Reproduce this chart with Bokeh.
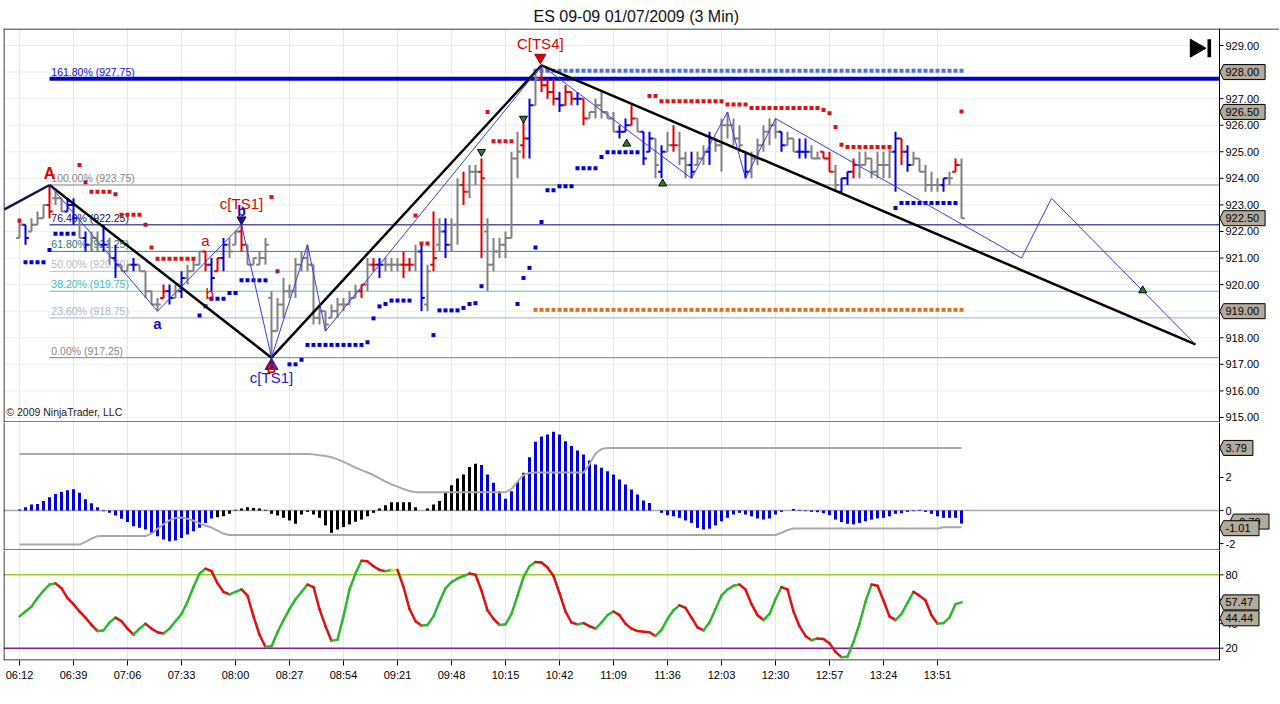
import numpy as np
from bokeh.plotting import figure
from bokeh.layouts import column
from bokeh.models import Range1d, FixedTicker, ColumnDataSource, Span, Grid
from bokeh.core.properties import value
from bokeh.embed import file_html
from bokeh.resources import INLINE

FONT = "Liberation Sans"

# ---------------- data ----------------
title_text = "ES 09-09  01/07/2009 (3 Min)"
time_ticks = [0, 9, 18, 27, 36, 45, 54, 63, 72, 81, 90, 99, 108, 117, 126, 135, 144, 153]
time_labels = ["06:12", "06:39", "07:06", "07:33", "08:00", "08:27", "08:54", "09:21", "09:48",
               "10:15", "10:42", "11:09", "11:36", "12:03", "12:30", "12:57", "13:24", "13:51"]
price_ticks = [915, 916, 917, 918, 919, 920, 921, 922, 923, 924, 925, 926, 927, 928, 929]

high = [922.50, 922.25, 922.50, 922.75, 923.00, 923.75, 923.50, 923.25, 923.25, 923.25,
        922.50, 922.00, 922.00, 922.00, 922.25, 921.75, 921.50, 920.75, 920.75, 921.00,
        920.75, 920.50, 919.75, 919.50, 920.00, 920.00, 920.00, 920.50, 920.75, 921.00,
        921.25, 921.25, 921.00, 921.00, 921.75, 921.75, 922.00, 922.25, 921.50, 921.00,
        921.25, 921.75, 919.75, 919.50, 920.25, 920.00, 921.00, 921.25, 921.50, 920.75,
        919.25, 919.00, 919.25, 919.50, 919.50, 919.75, 920.00, 920.00, 921.00, 921.00,
        921.00, 921.00, 921.00, 921.00, 921.25, 921.00, 921.50, 921.50, 920.75, 922.75,
        922.50, 922.50, 922.50, 924.00, 924.25, 924.50, 924.50, 924.75, 922.50, 921.75,
        921.75, 922.00, 925.00, 925.75, 926.25, 927.00, 928.00, 928.25, 927.75, 927.75,
        927.25, 927.50, 927.25, 927.25, 927.00, 926.50, 927.00, 927.25, 926.50, 926.50,
        926.00, 926.25, 926.75, 926.25, 925.75, 925.75, 925.50, 925.25, 925.75, 926.00,
        925.75, 925.00, 925.00, 925.00, 925.25, 925.75, 925.50, 926.25, 926.50, 926.25,
        926.00, 925.00, 925.00, 925.50, 926.00, 926.25, 926.25, 925.75, 925.75, 925.50,
        925.50, 925.50, 925.25, 925.00, 925.00, 925.00, 924.50, 924.00, 924.25, 924.75,
        925.00, 925.00, 924.75, 925.00, 925.00, 925.25, 925.75, 925.50, 925.25, 925.00,
        924.75, 924.50, 924.25, 924.00, 924.00, 924.25, 924.75, 924.75]
low = [921.75, 921.50, 922.00, 922.25, 922.50, 922.50, 923.00, 922.75, 922.75, 922.25,
       921.75, 921.25, 921.25, 921.25, 921.25, 920.75, 920.25, 920.50, 920.50, 920.50,
       920.50, 919.50, 919.25, 919.00, 919.50, 919.25, 919.50, 919.50, 920.00, 920.50,
       920.75, 920.50, 919.75, 920.50, 920.50, 921.00, 921.50, 921.25, 920.75, 920.75,
       920.75, 920.75, 917.25, 918.25, 918.75, 919.50, 919.50, 920.50, 920.50, 918.50,
       918.50, 918.25, 918.75, 918.75, 919.00, 919.25, 919.50, 919.50, 919.75, 920.50,
       920.25, 920.50, 920.50, 920.50, 920.25, 920.50, 920.50, 919.00, 919.00, 920.50,
       921.25, 921.00, 921.25, 921.50, 923.00, 923.25, 923.75, 921.00, 919.75, 920.50,
       921.00, 921.00, 921.75, 924.00, 924.75, 924.75, 926.75, 927.25, 927.00, 926.75,
       926.50, 926.75, 926.75, 926.75, 926.00, 926.25, 926.25, 926.25, 926.25, 925.75,
       925.50, 925.75, 926.00, 925.75, 924.50, 925.00, 924.00, 924.00, 925.00, 925.00,
       924.50, 924.00, 924.00, 924.50, 924.50, 924.50, 925.00, 924.25, 925.50, 925.25,
       925.00, 924.00, 924.00, 924.50, 925.00, 925.25, 925.50, 925.00, 925.25, 925.00,
       924.75, 924.75, 924.75, 924.75, 924.75, 924.25, 923.50, 923.50, 923.75, 924.00,
       924.00, 924.50, 924.00, 924.00, 924.00, 924.00, 923.50, 924.50, 924.25, 924.50,
       924.25, 923.50, 923.50, 923.50, 923.50, 923.75, 924.25, 922.50]
opn = [921.75, 922.25, 922.00, 922.25, 922.50, 923.00, 923.25, 923.25, 922.75, 923.00,
       922.50, 921.75, 921.50, 921.75, 921.50, 921.50, 921.00, 920.75, 920.50, 920.75,
       920.75, 920.50, 919.75, 919.25, 919.50, 919.75, 919.50, 919.75, 920.25, 920.50,
       920.75, 921.25, 920.75, 920.50, 921.00, 921.50, 921.50, 922.00, 921.50, 920.75,
       920.75, 921.00, 919.50, 918.25, 919.25, 919.75, 919.75, 920.75, 921.00, 920.75,
       918.75, 919.00, 918.75, 919.00, 919.25, 919.25, 919.50, 919.75, 920.00, 920.75,
       920.75, 920.75, 920.75, 920.75, 920.75, 920.75, 920.75, 921.25, 919.25, 920.75,
       921.50, 922.00, 921.50, 922.25, 923.75, 923.50, 924.25, 924.25, 922.00, 920.75,
       921.25, 921.50, 921.75, 924.75, 925.25, 925.50, 926.75, 927.75, 927.50, 927.25,
       927.00, 926.75, 927.25, 927.00, 927.00, 926.25, 926.50, 926.75, 926.50, 926.25,
       925.75, 925.75, 926.00, 926.25, 925.75, 925.00, 925.50, 924.25, 925.00, 925.25,
       925.25, 924.75, 924.50, 924.50, 924.75, 925.00, 925.50, 925.25, 926.00, 926.00,
       925.50, 925.00, 924.25, 924.75, 925.25, 925.75, 926.00, 925.75, 925.25, 925.50,
       925.00, 925.00, 925.00, 924.75, 925.00, 924.75, 924.25, 923.50, 924.00, 924.25,
       924.50, 924.50, 924.75, 924.25, 924.50, 924.50, 925.00, 925.50, 925.00, 924.50,
       924.75, 924.25, 923.75, 923.75, 923.75, 924.00, 924.25, 924.50]
cls = [922.25, 921.75, 922.25, 922.50, 923.00, 922.75, 923.25, 922.75, 923.00, 922.50,
       921.75, 921.50, 921.75, 921.50, 921.50, 921.00, 920.75, 920.50, 920.75, 920.75,
       920.50, 919.75, 919.25, 919.25, 919.75, 919.50, 919.75, 920.25, 920.50, 920.75,
       921.25, 920.75, 920.25, 921.00, 921.50, 921.25, 922.00, 921.50, 920.75, 921.00,
       921.00, 921.50, 918.25, 919.25, 919.75, 919.75, 920.75, 921.00, 920.75, 918.75,
       919.00, 918.50, 919.00, 919.25, 919.25, 919.50, 919.75, 920.00, 920.75, 920.75,
       920.75, 920.75, 920.75, 920.75, 920.75, 920.75, 921.25, 919.50, 920.50, 921.00,
       922.00, 921.50, 922.25, 923.75, 923.50, 924.25, 924.25, 924.00, 920.75, 921.25,
       921.50, 921.75, 924.75, 925.00, 925.50, 926.75, 927.75, 927.50, 927.25, 927.00,
       926.75, 927.25, 927.00, 927.00, 926.25, 926.50, 926.75, 926.50, 926.25, 925.75,
       925.75, 926.00, 926.25, 925.75, 924.75, 925.50, 924.50, 925.00, 925.25, 925.25,
       924.75, 924.50, 924.25, 924.75, 925.00, 925.50, 925.25, 926.00, 926.00, 925.50,
       925.25, 924.25, 924.75, 925.25, 925.75, 926.00, 925.75, 925.25, 925.50, 925.00,
       925.00, 925.00, 924.75, 924.75, 924.75, 924.25, 923.75, 924.00, 924.25, 924.50,
       924.50, 924.75, 924.25, 924.50, 924.50, 925.00, 925.50, 925.00, 924.50, 924.75,
       924.25, 923.75, 923.75, 923.75, 924.00, 924.00, 924.50, 922.50]
bar_colors = ("gbgggrggbb" "gbggbgbggb" "ggggrbgbgg" "grbrbggrgg" "gggggggggg"
              "gggggggrgr" "bgggrrgbgr" "gbggrggrgg" "ggggrbgrrr" "brrbrggggg"
              "bbrgbbgbgr" "ggbggbgggg" "gbgggggbgg" "bbggrrgbbr" "ggggggbrbg"
              "ggggbgrg")

# trailing-stop dots: (first bar, last bar, price)
red_dot_runs = [(0, 0, 922.4), (10, 10, 924.5), (12, 15, 923.5), (17, 20, 922.63), (22, 22, 921.4),
                (23, 29, 920.97), (42, 42, 923.3), (66, 66, 922.6), (67, 68, 921.55), (78, 78, 926.5),
                (79, 82, 925.4), (105, 106, 927.1), (107, 117, 926.9), (118, 121, 926.78),
                (122, 133, 926.65), (134, 134, 926.57), (135, 135, 926.45), (136, 136, 925.93),
                (137, 137, 925.26), (138, 145, 925.18), (157, 157, 926.52)]
darkred_dot_runs = [(11, 11, 923.85), (16, 16, 923.4), (21, 21, 922.25), (43, 43, 920.5)]
blue_dot_runs = [(1, 4, 920.84), (5, 5, 921.3), (6, 9, 921.91), (30, 30, 918.84), (31, 31, 919.19),
                 (32, 34, 919.47), (35, 36, 919.68), (37, 41, 920.16), (45, 46, 917.0), (47, 47, 917.17),
                 (48, 57, 917.73), (58, 58, 917.83), (59, 59, 918.73), (60, 60, 919.18), (61, 61, 919.27),
                 (62, 65, 919.4), (69, 69, 918.1), (70, 73, 919.03), (74, 74, 919.12), (75, 75, 919.27),
                 (76, 76, 919.3), (77, 77, 919.94), (83, 83, 919.27), (84, 84, 920.25), (85, 85, 920.63),
                 (86, 86, 921.4), (87, 87, 922.36), (88, 89, 923.55), (90, 92, 923.7), (93, 96, 924.38),
                 (97, 97, 924.8), (98, 103, 924.98), (146, 146, 922.88), (147, 156, 923.07)]
lightblue_dot_runs = [(86, 157, 928.05)]
orange_dot_runs = [(86, 157, 919.05)]

fib_start = 5
fib_levels = [927.75, 923.75, 922.25, 921.25, 920.50, 919.75, 918.75, 917.25]
fib_labels = ["161.80% (927.75)", "100.00% (923.75)", "76.40% (922.25)", "61.80% (921.25)",
              "50.00% (920.50)", "38.20% (919.75)", "23.60% (918.75)", "0.00% (917.25)"]

thick_x = [-2.5, 5, 42, 87, 196]
thick_y = [922.83, 923.75, 917.25, 928.25, 917.75]
thin_x = [5, 23, 37, 42, 48, 51, 87, 112, 118, 121, 126, 167, 172, 196]
thin_y = [923.75, 919.0, 922.25, 917.25, 921.5, 918.25, 928.25, 924.0, 926.5, 924.0, 926.25,
          921.0, 923.25, 917.75]

sig_dn_x = [77, 84]
sig_dn_y = [925.0, 926.25]
sig_up_x = [101.2, 107.2, 187.2]
sig_up_y = [925.3, 923.8, 919.78]

price_tags = [("928.00", 928.0), ("926.50", 926.5), ("922.50", 922.5), ("919.00", 919.0)]

hist = [0.06, 0.20, 0.36, 0.40, 0.57, 0.81, 1.00, 1.13, 1.23, 1.29,
        1.07, 0.69, 0.44, 0.20, -0.04, -0.14, -0.30, -0.50, -0.70, -0.95,
        -1.05, -1.15, -1.35, -1.55, -1.76, -1.86, -1.82, -1.66, -1.45, -1.25,
        -1.05, -0.75, -0.48, -0.40, -0.35, -0.20, 0.04, 0.12, 0.20, 0.16,
        0.12, 0.04, -0.20, -0.30, -0.44, -0.60, -0.80, -0.24, -0.08, -0.24,
        -0.44, -0.90, -1.35, -1.15, -1.00, -0.84, -0.68, -0.55, -0.35, -0.14,
        0.12, 0.32, 0.50, 0.50, 0.50, 0.50, 0.20, 0.00, 0.12, 0.36,
        0.57, 1.13, 1.53, 1.94, 2.18, 2.63, 2.84, 2.75, 2.18, 1.68,
        1.17, 0.71, 1.17, 1.72, 2.28, 3.23, 4.16, 4.48, 4.60, 4.77,
        4.60, 4.20, 3.90, 3.64, 3.40, 3.03, 2.79, 2.59, 2.38, 2.18,
        1.88, 1.58, 1.27, 0.97, 0.61, 0.46, 0.00, -0.14, -0.28, -0.35,
        -0.44, -0.60, -0.75, -1.05, -1.15, -1.10, -0.90, -0.65, -0.44, -0.24,
        -0.14, -0.24, -0.35, -0.48, -0.55, -0.48, -0.24, -0.08, 0.00, 0.10,
        0.04, -0.04, -0.08, -0.10, -0.16, -0.28, -0.55, -0.70, -0.80, -0.84,
        -0.75, -0.65, -0.55, -0.48, -0.44, -0.35, -0.20, -0.16, -0.08, -0.04,
        0.04, -0.08, -0.20, -0.35, -0.44, -0.44, -0.44, -0.79]
hist_color_runs = [("b", 33), ("k", 44), ("b", 81)]
band_upper = ([3.43] * 49 + [3.40, 3.35, 3.30, 3.23, 3.10, 2.95, 2.78, 2.60, 2.45, 2.30, 2.15,
              1.95, 1.75, 1.58, 1.45, 1.30, 1.18] + [1.11] * 16 + [1.30, 1.75, 2.15, 2.28]
              + [2.30] * 9 + [2.80, 3.45, 3.72] + [3.79] * 60)
band_lower = ([-2.06] * 11 + [-1.90, -1.70, -1.55] + [-1.54] * 8
              + [-1.40, -1.10, -0.83, -0.60, -0.46, -0.42, -0.50, -0.62, -0.78, -0.92, -1.03, -1.22, -1.40]
              + [-1.48] * 92 + [-1.35, -1.18] + [-1.09] * 25 + [-1.01] * 4)
osc_ticks = [-2, 0, 2]
osc_tags = [("-0.79", -0.79), ("3.79", 3.79), ("-1.01", -1.01)]

stoch = [46, 50, 54, 61, 67, 72, 73, 69, 61, 56,
         50, 45, 39, 34, 34.5, 41, 45, 42, 36, 31,
         36, 40, 36, 33, 32, 36, 42, 48, 58, 70,
         81, 85, 83, 73, 66, 64, 66, 68, 63, 46,
         31, 21, 21.5, 33, 43, 52, 60, 66, 72, 70,
         52, 38, 26, 27, 46, 68, 81, 91.5, 91, 87,
         84, 83, 84, 84, 70, 52, 42, 38.5, 39, 46,
         58, 69, 74, 77, 79, 81, 80, 67, 51, 44,
         39, 39.5, 48, 63, 78, 87, 90.5, 90, 86, 79,
         65, 50, 41, 39.5, 40.5, 38, 36, 41, 47, 50,
         47, 40, 36, 34, 33.5, 33, 30, 35, 44, 51,
         55, 53, 45, 37, 34.5, 41, 52, 63, 68, 71,
         72, 68, 56, 47, 43, 48, 60, 70, 68, 50,
         38, 30, 26.5, 28, 27.5, 24, 17, 12.7, 13, 25,
         40, 58, 72, 71, 59, 46, 43, 48, 57, 66,
         63, 59, 47, 40, 40.5, 45, 56, 57.47]
stoch_levels = [80, 20]
stoch_ticks = [20, 40, 60, 80]
stoch_tags = [("57.47", 57.47), ("44.44", 44.44)]

n = len(high)
for arr in (low, opn, cls, hist, band_upper, band_lower, stoch):
    assert len(arr) == n, len(arr)
assert len(bar_colors) == n

# ---------------- layout constants ----------------
PX = 6.0            # pixels per bar
X0 = -2.6667        # left frame edge (bar units)
XAX = 200.0         # price-axis line position (bar units)
X1 = 210.0          # right frame edge
FRAME_W = int(round((X1 - X0) * PX))
xr = Range1d(X0, X1)
TAG_BG = "#b2ab9c"


def make_fig(frame_h, y0, y1, xaxis=False, top_border=0):
    p = figure(frame_width=FRAME_W, frame_height=frame_h, x_range=xr, y_range=Range1d(y0, y1),
               output_backend="svg", toolbar_location=None,
               x_axis_location="below" if xaxis else None, y_axis_location=None,
               min_border_left=3, min_border_right=0, min_border_top=top_border, min_border_bottom=0,
               background_fill_color="white", border_fill_color="white")
    p.outline_line_color = None
    p.grid.grid_line_color = None
    p.add_layout(Grid(dimension=0, ticker=FixedTicker(ticks=time_ticks),
                      grid_line_color="#e8e8e8", grid_line_width=1))
    ppu = frame_h / (y1 - y0)
    # frame borders: left edge, axis line, bottom edge
    p.add_layout(Span(location=X0 + 0.5 / PX, dimension="height", line_color="black", line_width=1))
    p.add_layout(Span(location=XAX, dimension="height", line_color="black", line_width=1))
    p.segment(x0=[X0], x1=[XAX], y0=[y0 + 0.5 / ppu], y1=[y0 + 0.5 / ppu], line_color="black", line_width=1)
    return p, ppu


def right_axis(p, ppu, ticks, fmt):
    k = len(ticks)
    p.segment(x0=[XAX] * k, x1=[XAX + 4 / PX] * k, y0=ticks, y1=ticks, line_color="black", line_width=1)
    p.text(x=[XAX + 6 / PX] * k, y=ticks, text=[fmt % t for t in ticks], text_font=value(FONT),
           text_font_size="11px", text_color="#000000", text_align="left", text_baseline="middle")


def value_tags(p, ppu, tags, shifts=None):
    shifts = shifts or {}
    for txt, v in tags:
        h = 15.0 / ppu
        w = (len(txt) * 6.1 + 5) / PX
        dxp, dyp = shifts.get(txt, (0, 0))
        d = dxp / PX
        vv = v + dyp / ppu
        xl = XAX + 4 / PX + d
        p.patch(x=[XAX + 0.3 / PX + d, xl, xl + w, xl + w, xl],
                y=[vv, vv + h / 2, vv + h / 2, vv - h / 2, vv - h / 2],
                fill_color=TAG_BG, line_color="black", line_width=1)
        p.text(x=[xl + 2 / PX], y=[vv], text=[txt], text_font=value(FONT), text_font_size="11px",
               text_color="#000000", text_align="left", text_baseline="middle")


def expand(runs):
    xs, ys = [], []
    for a, b, v in runs:
        for i in range(a, b + 1):
            xs.append(i)
            ys.append(v)
    return xs, ys


# ---------------- price panel ----------------
P1_Y0, P1_Y1 = 914.81, 929.64
p1, ppu1 = make_fig(394, P1_Y0, P1_Y1, top_border=28)
p1.title.text = title_text
p1.title.align = "left"
p1.title.offset = 530
p1.title.text_font = FONT
p1.title.text_font_size = "16px"
p1.title.text_font_style = "normal"
p1.title.text_color = "#111111"
p1.title.standoff = 8
# top border spans the whole width
p1.add_layout(Span(location=P1_Y1 - 0.5 / ppu1, dimension="width", line_color="black", line_width=1))
k = len(price_ticks)
p1.segment(x0=[X0] * k, x1=[XAX] * k, y0=price_ticks, y1=price_ticks, line_color="#ededed", line_width=1)

fib_line_colors = ["#0000cc", "#808080", "#000070", "#2a8a8a", "#c8c8c8", "#48c8c8", "#b4c0d4", "#808080"]
fib_text_colors = ["#1010c0", "#888888", "#101060", "#2a8080", "#b8b8b8", "#40bcbc", "#a8b4cc", "#888888"]
fib_widths = [4, 1, 1, 1, 1.2, 1.2, 1.2, 1]
m = len(fib_levels)
p1.segment(x0=[fib_start] * m, y0=fib_levels, x1=[XAX] * m, y1=fib_levels,
           line_color=fib_line_colors, line_width=fib_widths)
p1.text(x=[fib_start + 0.3] * m, y=fib_levels, text=fib_labels,
        text_font=value(FONT), text_font_size="10.5px", text_color=fib_text_colors,
        text_baseline="bottom", text_align="left", y_offset=-1)

colmap = {"g": "#808080", "r": "#e00000", "b": "#0000e0"}
xs = np.arange(n)
bsrc = ColumnDataSource(dict(x=xs, xl=xs - 0.55, xr=xs + 0.55, h=high, l=low, o=opn, c=cls,
                             col=[colmap[c] for c in bar_colors]))
p1.segment(x0="x", y0="l", x1="x", y1="h", line_color="col", line_width=2, source=bsrc)
p1.segment(x0="xl", y0="o", x1="x", y1="o", line_color="col", line_width=2, source=bsrc)
p1.segment(x0="x", y0="c", x1="xr", y1="c", line_color="col", line_width=2, source=bsrc)

for runs, col in ((red_dot_runs, "#e41010"), (darkred_dot_runs, "#a81838"),
                  (blue_dot_runs, "#0000dd"), (lightblue_dot_runs, "#4f73d8"),
                  (orange_dot_runs, "#e07028")):
    dx, dy = expand(runs)
    p1.scatter(dx, dy, marker="square", size=4, fill_color=col, line_color=None)

p1.line(thick_x[:2], thick_y[:2], line_color="#14145a", line_width=2.5)
p1.line(thick_x[1:], thick_y[1:], line_color="#000000", line_width=2.5)
p1.line(thin_x, thin_y, line_color="#3c3cdc", line_width=1)

p1.scatter(sig_dn_x, sig_dn_y, marker="inverted_triangle", size=8, fill_color="#2e7d32", line_color="#000000")
p1.scatter(sig_up_x, sig_up_y, marker="triangle", size=8, fill_color="#2e7d32", line_color="#000000")

# swing annotations
p1.text(x=[5], y=[923.85], text=["A"], text_font=value(FONT), text_font_size="16px",
        text_font_style="bold", text_color="#e00000", text_align="center", text_baseline="bottom")
p1.text(x=[23], y=[918.54], text=["a"], text_font=value(FONT), text_font_size="15px",
        text_font_style="bold", text_color="#1010c0", text_align="center", text_baseline="middle")
p1.text(x=[31, 31.7], y=[921.66, 919.68], text=["a", "b"], text_font=value(FONT), text_font_size="15px",
        text_color="#e00000", text_align="center", text_baseline="middle")
p1.text(x=[37], y=[923.05], text=["c[TS1]"], text_font=value(FONT), text_font_size="15px",
        text_color="#e00000", text_align="center", text_baseline="middle")
p1.scatter([37], [922.45], marker="inverted_triangle", size=9, fill_color="#1a1aa0", line_color="#000040")
p1.text(x=[37], y=[922.78], text=["b"], text_font=value(FONT), text_font_size="14px",
        text_font_style="bold", text_color="#1010c0", text_align="center", text_baseline="middle")
p1.scatter([42], [916.95], marker="triangle", size=13, fill_color="#2020c0", line_color="#2020c0")
p1.text(x=[42], y=[916.85], text=["B"], text_font=value(FONT), text_font_size="13px",
        text_font_style="bold", text_color="#e00000", text_align="center", text_baseline="middle")
p1.text(x=[42], y=[916.5], text=["c[TS1]"], text_font=value(FONT), text_font_size="15px",
        text_color="#2020c8", text_align="center", text_baseline="middle")
p1.text(x=[86.8], y=[929.07], text=["C[TS4]"], text_font=value(FONT), text_font_size="15px",
        text_color="#e00000", text_align="center", text_baseline="middle")
p1.scatter([86.8], [928.55], marker="inverted_triangle", size=11, fill_color="#e00000", line_color="#900000")

p1.text(x=[-2.2], y=[915.19], text=["\u00a9 2009 NinjaTrader, LLC"], text_font=value(FONT),
        text_font_size="10.5px", text_color="#222222", text_align="left", text_baseline="middle")

# "go to last bar" icon
p1.scatter([196.0], [928.9], marker="triangle", angle=-np.pi / 2, size=18, fill_color="black", line_color="black")
p1.rect(x=[198.3], y=[928.9], width=0.6, height=0.68, fill_color="black", line_color=None)

right_axis(p1, ppu1, price_ticks, "%.2f")
value_tags(p1, ppu1, price_tags)

# ---------------- oscillator panel ----------------
p2, ppu2 = make_fig(128, -2.42, 5.33)
p2.segment(x0=[X0], x1=[XAX], y0=[0], y1=[0], line_color="#a8a8a8", line_width=1.5)
hcol = []
for c, kk in hist_color_runs:
    hcol += [{"b": "#0000e0", "k": "#000000"}[c]] * kk
p2.vbar(x=xs, top=hist, bottom=0, width=0.5, fill_color=hcol, line_color=None)
p2.line(xs, band_upper, line_color="#a9a9a9", line_width=2)
p2.line(xs, band_lower, line_color="#a9a9a9", line_width=2)
right_axis(p2, ppu2, osc_ticks, "%d")
value_tags(p2, ppu2, osc_tags, shifts={"-0.79": (10, 2), "-1.01": (0, -1)})

# ---------------- stochastic panel ----------------
p3, ppu3 = make_fig(110, 9.94, 99.87, xaxis=True)
level_colors = ["#9acd32", "#8b1a8b"]
L = len(stoch_levels)
p3.segment(x0=[X0] * L, x1=[XAX] * L, y0=stoch_levels, y1=stoch_levels,
           line_color=level_colors, line_width=1.5)
seg_col = []
for a, b in zip(stoch[:-1], stoch[1:]):
    seg_col.append("#2cb82c" if b > a else ("#e01010" if b < a else "#ffe600"))
p3.segment(x0=xs[:-1], y0=stoch[:-1], x1=xs[1:], y1=stoch[1:], line_color=seg_col,
           line_width=2.5, line_cap="round")
right_axis(p3, ppu3, stoch_ticks, "%d")
value_tags(p3, ppu3, stoch_tags)

xa = p3.xaxis[0]
xa.ticker = FixedTicker(ticks=time_ticks)
xa.major_label_overrides = {t: lab for t, lab in zip(time_ticks, time_labels)}
xa.axis_line_color = None
xa.major_tick_line_color = "black"
xa.major_tick_in = 0
xa.major_tick_out = 5
xa.minor_tick_line_color = None
xa.major_label_text_font = FONT
xa.major_label_text_font_size = "11px"
xa.major_label_text_color = "#000000"
xa.major_label_standoff = 3

layout = column(p1, p2, p3, spacing=0)
open("out.html", "w").write(file_html(layout, INLINE))
